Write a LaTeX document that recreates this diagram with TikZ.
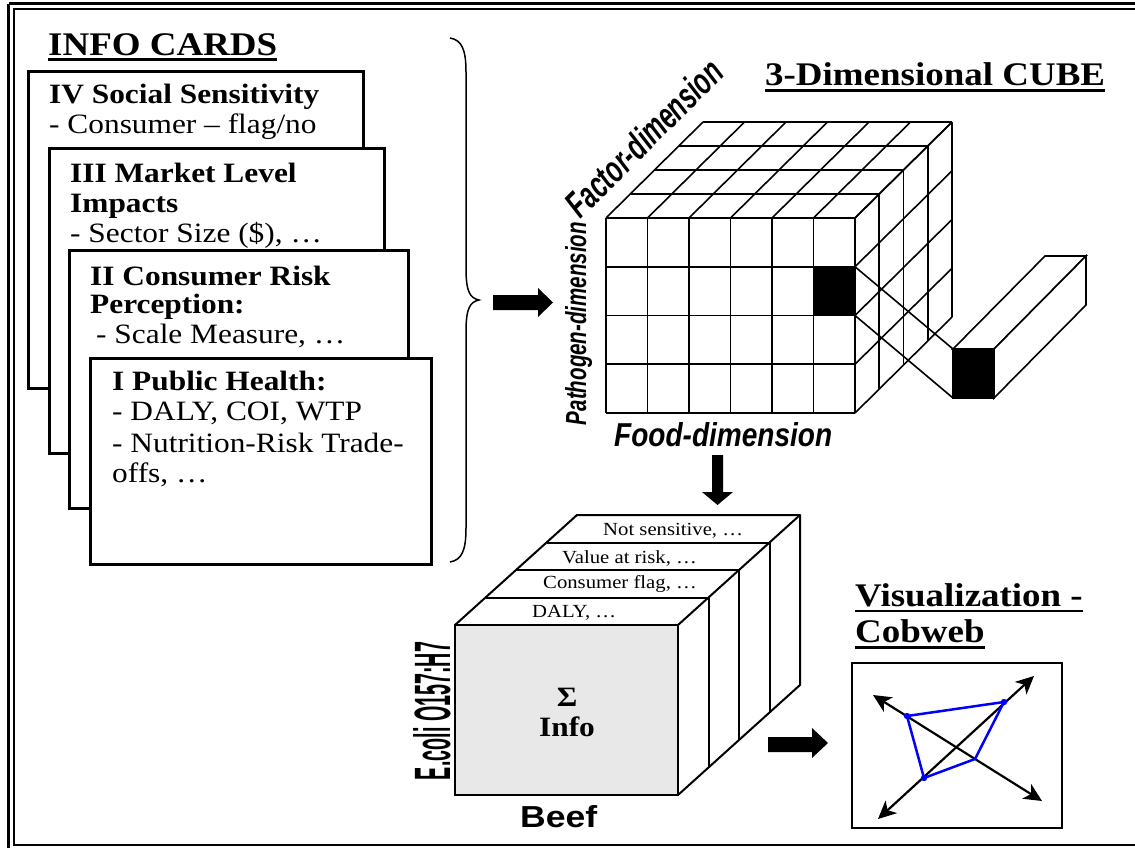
\documentclass[tikz,border=0pt]{standalone}
\usepackage{fontspec}
\setmainfont{Liberation Serif}[FakeStretch=1.12]
\newfontfamily\sanslab{Liberation Sans}
\usetikzlibrary{arrows.meta}
\newcommand{\setfs}[1]{\fontsize{#1bp}{#1bp}\selectfont}
\definecolor{faceGray}{RGB}{232,232,232}
\begin{document}
\begin{tikzpicture}[x=1bp,y=-1bp,
  card/.style={draw, line width=3bp, fill=white},
  ctext/.style={anchor=base west, inner sep=0pt, font=\setfs{28}},
  htext/.style={anchor=base west, inner sep=0pt, font=\setfs{28}\bfseries},
  ttext/.style={anchor=base west, inner sep=0pt, font=\setfs{33}\bfseries},
  stext/.style={anchor=base west, inner sep=0pt, font=\setfs{18.5}},
  uline/.style={line width=2.5bp},
  gridline/.style={line width=1.6bp},
  blockarrow/.style={fill=black},
  axis/.style={line width=2.2bp, {Stealth[length=18bp,width=17bp,inset=5bp]}-{Stealth[length=18bp,width=17bp,inset=5bp]}},
  web/.style={draw=blue, line width=2.5bp, line join=round}
]
\useasboundingbox (0,0) rectangle (1135,848);
\fill[white] (0,0) rectangle (1135,848);
% frame
\draw[line width=3bp] (8.5,3.5) -- (1140,3.5);
\draw[line width=3bp] (8.5,3.5) -- (8.5,852);
\draw[line width=2bp] (14,8.5) rectangle (1140,845);

% ---------- INFO CARDS ----------
\node[ttext] (tinfo) at (48,55) {INFO CARDS};
\draw[uline] ([yshift=-4.5bp]tinfo.base west) -- ([yshift=-4.5bp]tinfo.base east);

\node[card, minimum width=335bp, minimum height=317bp, anchor=north west, inner sep=0pt] (c4) at (27,70) {};
\node[htext] (c4a) at (49,103) {IV Social Sensitivity};
\node[ctext] (c4b) at (49,133) {- Consumer – flag/no};

\node[card, minimum width=335bp, minimum height=305bp, anchor=north west, inner sep=0pt] (c3) at (48,147) {};
\node[htext] (c3a) at (70,182) {III Market Level};
\node[htext] (c3b) at (70,212) {Impacts};
\node[ctext] (c3c) at (70,242) {- Sector Size (\$), …};

\node[card, minimum width=339bp, minimum height=258bp, anchor=north west, inner sep=0pt] (c2) at (68,249) {};
\node[htext] (c2a) at (90,285) {II Consumer Risk};
\node[htext] (c2b) at (90,313) {Perception:};
\node[ctext] (c2c) at (96,343) {- Scale Measure, …};

\node[card, minimum width=341bp, minimum height=206bp, anchor=north west, inner sep=0pt] (c1) at (89,357) {};
\node[htext] (c1a) at (112,390) {I Public Health:};
\node[ctext] (c1b) at (112,420) {- DALY, COI, WTP};
\node[ctext] (c1c) at (112,452) {- Nutrition-Risk Trade-};
\node[ctext] (c1d) at (112,482) {offs, …};

% brace
\draw[line width=1.5bp] (450,38) .. controls (462,40) and (466,50) .. (466,72) -- (466,268)
  .. controls (466,292) and (470,298) .. (479,300)
  .. controls (470,302) and (466,308) .. (466,332) -- (466,528)
  .. controls (466,550) and (462,560) .. (450,562);

% arrow brace -> cube
\fill[blockarrow] (493,295) -- (538,295) -- (538,288) -- (553,302.5) -- (538,317) -- (538,310) -- (493,310) -- cycle;

% ---------- CUBE ----------
\node[ttext] (tcube) at (765,85) {3-Dimensional CUBE};
\draw[uline] ([yshift=-5.5bp]tcube.base west) -- ([yshift=-5.5bp]tcube.base east);

\def\cx{606}\def\cy{218}\def\cw{41.5}\def\ch{48.75}\def\dx{24.25}\def\dy{-24}
\fill[black] ({\cx+5*\cw},{\cy+\ch}) rectangle ({\cx+6*\cw},{\cy+2*\ch});
\foreach \i in {0,...,6} \draw[gridline] ({\cx+\i*\cw},\cy) -- ({\cx+\i*\cw},{\cy+4*\ch});
\foreach \j in {0,...,4} \draw[gridline] (\cx,{\cy+\j*\ch}) -- ({\cx+6*\cw},{\cy+\j*\ch});
\foreach \k in {1,...,4} \draw[gridline] ({\cx+\k*\dx},{\cy+\k*\dy}) -- ({\cx+6*\cw+\k*\dx},{\cy+\k*\dy});
\foreach \i in {0,...,6} \draw[gridline] ({\cx+\i*\cw},\cy) -- ({\cx+\i*\cw+4*\dx},{\cy+4*\dy});
\foreach \k in {1,...,4} \draw[gridline] ({\cx+6*\cw+\k*\dx},{\cy+\k*\dy}) -- ({\cx+6*\cw+\k*\dx},{\cy+4*\ch+\k*\dy});
\foreach \j in {0,...,4} \draw[gridline] ({\cx+6*\cw},{\cy+\j*\ch}) -- ({\cx+6*\cw+4*\dx},{\cy+\j*\ch+4*\dy});

\coordinate (dk1) at ({\cx+6*\cw},{\cy+\ch});
\coordinate (dk2) at ({\cx+6*\cw},{\cy+2*\ch});
\coordinate (b1) at (953,349);
\coordinate (b2) at (953,398);
\coordinate (b3) at (994,398);
\coordinate (b4) at (994,349);
\coordinate (b5) at (1045,256);
\coordinate (b6) at (1086,256);
\coordinate (b7) at (1086,305);
\draw[gridline] (dk1) -- (b1);
\draw[gridline] (dk2) -- (b2);
\filldraw[gridline, fill=black] (b1) -- (b2) -- (b3) -- (b4) -- cycle;
\draw[gridline, fill=white] (b1) -- (b4) -- (b6) -- (b5) -- cycle;
\draw[gridline, fill=white] (b4) -- (b3) -- (b7) -- (b6) -- cycle;

\node[inner sep=0pt, rotate=45] (lfactor) at (644,138) {\resizebox{205bp}{27bp}{\sanslab\bfseries\itshape Factor-dimension}};
\node[inner sep=0pt, rotate=90, anchor=base] (lpath) at (586,323.5) {\resizebox{203bp}{21bp}{\sanslab\bfseries\itshape Pathogen-dimension}};
\node[inner sep=0pt, anchor=base west] (lfood) at (614,446) {\resizebox{218bp}{24bp}{\sanslab\bfseries\itshape Food-dimension}};

% arrow cube -> stack
\fill[blockarrow] (712,455) -- (723,455) -- (723,492) -- (733,492) -- (717.5,505) -- (702,492) -- (712,492) -- cycle;

% ---------- INFO STACK ----------
\def\sx{455}\def\sy{625}\def\sw{223}\def\sh{170}\def\ex{30.5}\def\ey{-27.5}
\fill[faceGray] (\sx,\sy) rectangle ({\sx+\sw},{\sy+\sh});
\draw[line width=2bp] (\sx,\sy) rectangle ({\sx+\sw},{\sy+\sh});
\draw[line width=2bp, line join=round] (\sx,\sy) -- ({\sx+4*\ex},{\sy+4*\ey}) -- ({\sx+\sw+4*\ex},{\sy+4*\ey}) -- ({\sx+\sw+4*\ex},{\sy+\sh+4*\ey}) -- ({\sx+\sw},{\sy+\sh});
\draw[line width=2bp] ({\sx+\sw},\sy) -- ({\sx+\sw+4*\ex},{\sy+4*\ey});
\foreach \k in {1,...,3} {
  \draw[line width=2bp] ({\sx+\k*\ex},{\sy+\k*\ey}) -- ({\sx+\sw+\k*\ex},{\sy+\k*\ey}) -- ({\sx+\sw+\k*\ex},{\sy+\sh+\k*\ey});
}
\node[stext] (s1) at (532,617) {DALY, …};
\node[stext] (s2) at (543,588) {Consumer flag, …};
\node[stext] (s3) at (562,563) {Value at risk, …};
\node[stext] (s4) at (603,535) {Not sensitive, …};
\node[inner sep=0pt, align=center, font=\setfs{28}\bfseries] (sigma) at (567,712) {Σ\\[2bp]Info};

\node[inner sep=0pt, rotate=90, anchor=base] (lecoli) at (450,711) {\resizebox{138bp}{37bp}{\sanslab\bfseries E.coli O157:H7}};
\node[inner sep=0pt, anchor=base west] (lbeef) at (520,827) {\resizebox{77bp}{22bp}{\sanslab\bfseries Beef}};

% arrow stack -> cobweb
\fill[blockarrow] (768,737) -- (812,737) -- (812,728) -- (828,743) -- (812,758) -- (812,752) -- (768,752) -- cycle;

% ---------- COBWEB ----------
\node[ttext] (tvis) at (855,606) {Visualization -};
\draw[uline] ([yshift=-5bp]tvis.base west) -- ([yshift=-5bp]tvis.base east);
\node[ttext] (tcob) at (855,642) {Cobweb};
\draw[uline] ([yshift=-5.5bp]tcob.base west) -- ([yshift=-5.5bp]tcob.base east);
\draw[line width=2.5bp] (852,663) rectangle (1062,828);

\coordinate (A1a) at (873,695);
\coordinate (A1b) at (1042,801);
\coordinate (A2a) at (878,819);
\coordinate (A2b) at (1034,676);
\coordinate (P1) at (907,716);
\coordinate (P2) at (1004,702);
\coordinate (P3) at (975,759);
\coordinate (P4) at (924,778);
\draw[axis] (A1a) -- (A1b);
\draw[axis] (A2a) -- (A2b);
\draw[web] (P1) -- (P2) -- (P3) -- (P4) -- cycle;
\fill[blue] (P1) circle (3.2);
\fill[blue] (P2) circle (3.2);
\fill[blue] (P4) circle (3.2);
\end{tikzpicture}
\end{document}
